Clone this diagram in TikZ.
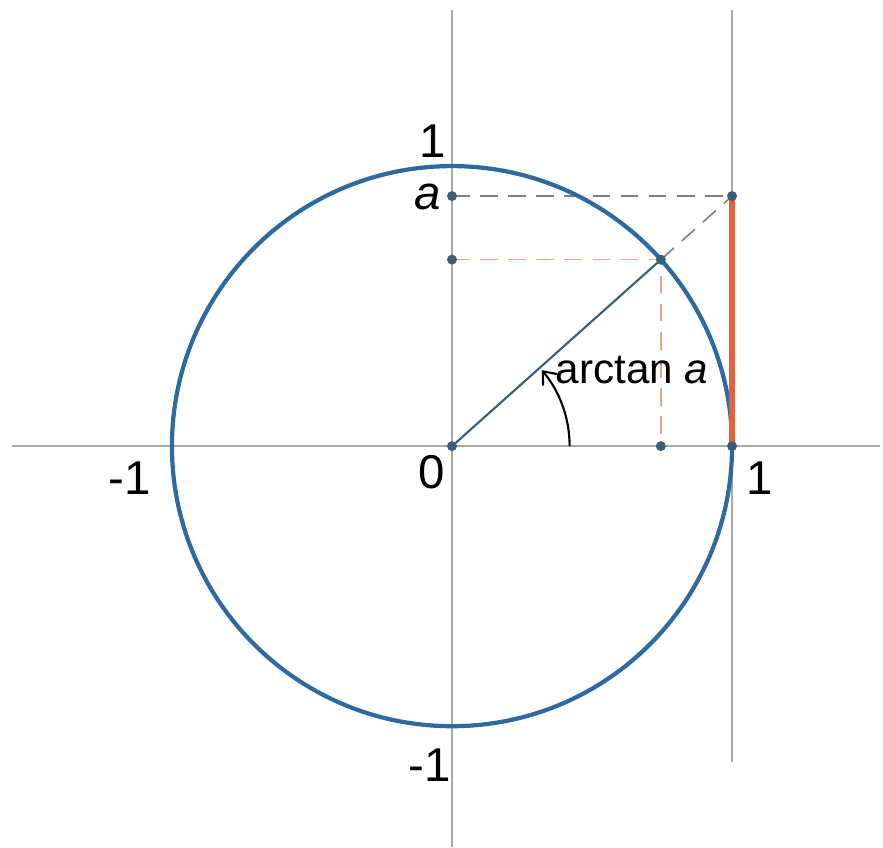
\documentclass[tikz,border=0pt]{standalone}
\usepackage{fontspec}
\setmainfont{Liberation Sans}
\usepackage{tikz}
\usetikzlibrary{positioning,arrows.meta}

\definecolor{circblue}{HTML}{2D6A9F}
\definecolor{dotblue}{HTML}{3B5E78}
\definecolor{segred}{HTML}{E5613D}
\definecolor{axisgray}{HTML}{A8A8A8}

\begin{document}
\begin{tikzpicture}[
    x=2.8cm, y=2.8cm,
    axis/.style={draw=axisgray, line width=0.5pt},
    unitcirc/.style={draw=circblue, line width=1.2pt},
    proj/.style={draw=gray, line width=0.45pt, dash pattern=on 5pt off 3pt},
    cosproj/.style={draw=segred!60, line width=0.45pt, dash pattern=on 5pt off 3pt},
    tanseg/.style={draw=segred, line width=1.6pt},
    radline/.style={draw=dotblue, line width=0.6pt},
    dot/.style={circle, fill=dotblue, inner sep=0pt, minimum size=0.1cm},
    lbl/.style={font=\fontsize{13.5}{16}\selectfont, inner sep=0pt},
    every node/.style={font=\fontsize{12}{14}\selectfont}
]
\useasboundingbox (-1.614,-1.432) rectangle (1.539,1.593);
\pgfmathsetmacro{\ang}{atan(0.893)}
% points
\coordinate (O) at (0,0);
\coordinate (P) at (\ang:1);
\coordinate (T) at (1,0.893);
\coordinate (E) at (1,0);
\coordinate (A) at (0,0.893);
\coordinate (S) at (0,{sin(\ang)});
\coordinate (C) at ({cos(\ang)},0);
% axes
\draw[axis] (-1.571,0) -- (1.529,0);
\draw[axis] (0,1.557) -- (0,-1.432);
\draw[axis] (1,1.557) -- (1,-1.129);
% projections
\draw[proj] (A) -- (T);
\draw[proj] (P) -- (T);
\draw[cosproj] (S) -- (P) -- (C);
% circle, radius, tangent
\draw[unitcirc] (O) circle[radius=1];
\draw[radline] (O) -- (P);
\draw[tanseg] (E) -- (T);
% angle
\draw[line width=0.6pt, -{Straight Barb[length=1.1mm, width=1.8mm]}] (0.42,0) arc[start angle=0, end angle=\ang-1.5, radius=0.42];
% dots
\foreach \p in {O,P,T,E,A,S,C}
    \node[dot] (d\p) at (\p) {};
% labels
\node[lbl] (one) at (-0.068,1.09) {1};
\node[lbl] (alab) at (-0.086,0.889) {\itshape a};
\node[lbl] (mone) at (-1.15,-0.114) {-1};
\node[lbl] (zero) at (-0.071,-0.093) {0};
\node[lbl] (onex) at (1.1,-0.114) {1};
\node[lbl] (money) at (-0.079,-1.139) {-1};
\node (arct) at (0.643,0.271) {arctan \textit{a}};
\end{tikzpicture}
\end{document}
